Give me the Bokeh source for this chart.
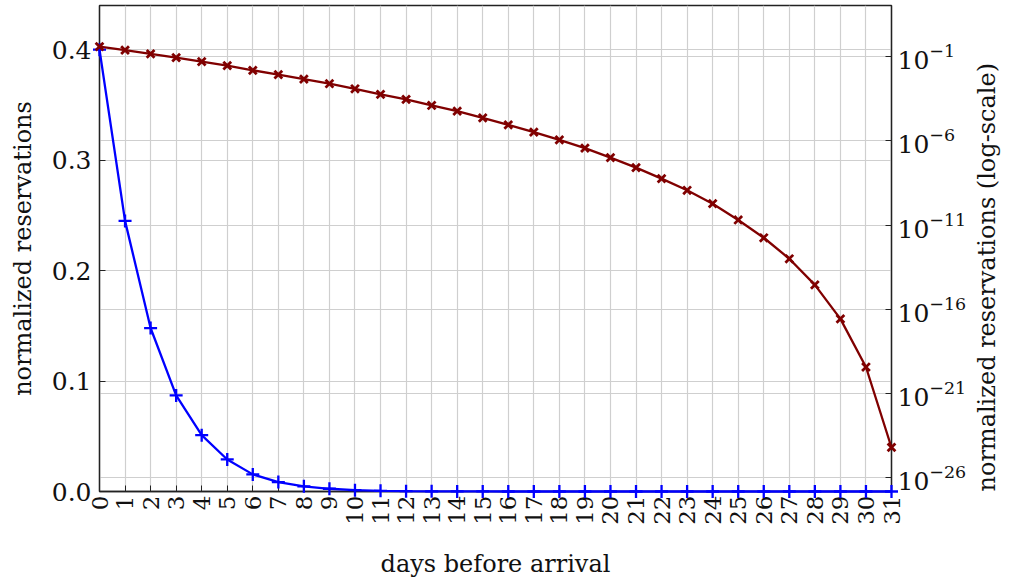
from bokeh.plotting import figure
from bokeh.models import (Range1d, LogScale, LogAxis, FixedTicker,
                          NumeralTickFormatter, Grid, ColumnDataSource)
from bokeh.embed import file_html
from bokeh.resources import INLINE
import math

# ---- data -------------------------------------------------------------
days = list(range(32))
reservations = [0.40, 0.245, 0.148, 0.087, 0.051, 0.029, 0.0155, 0.0085,
                0.0047, 0.00247, 0.00124, 5.7e-4, 2.9e-4, 1.26e-4, 5.9e-5,
                2.34e-5, 8.96e-6, 3.3e-6, 1.15e-6, 3.67e-7, 1.01e-7, 2.58e-8,
                5.7e-9, 1.16e-9, 1.85e-10, 1.99e-11, 1.75e-12, 9.9e-14,
                2.8e-15, 2.65e-17, 3.67e-20, 6.1e-25]
left_ticks = [0.0, 0.1, 0.2, 0.3, 0.4]
log_ticks = [1e-26, 1e-21, 1e-16, 1e-11, 1e-6, 1e-1]

x_label = "days before arrival"
y_label = "normalized reservations"
y2_label = "normalized reservations (log-scale)"

src = ColumnDataSource(dict(x=days, y=reservations))

FONT = "DejaVu Serif"
GRID = "#cfcfcf"
INK = "#222222"

p = figure(width=1019, height=581, output_backend="svg", toolbar_location=None,
           x_range=Range1d(0, 31), y_range=Range1d(0, 0.44),
           min_border_left=99, min_border_right=128, min_border_top=5,
           min_border_bottom=90)
p.outline_line_color = INK
p.outline_line_width = 1.3
p.background_fill_color = "white"
p.border_fill_color = "white"

p.extra_y_scales = {"log": LogScale()}
p.extra_y_ranges = {"log": Range1d(10 ** -26.83, 10 ** 2.04)}

# x axis
xa = p.xaxis[0]
xa.ticker = FixedTicker(ticks=days)
xa.major_label_orientation = 1.5707963
xa.axis_label = x_label

# left y axis
ya = p.yaxis[0]
ya.ticker = FixedTicker(ticks=left_ticks)
ya.formatter = NumeralTickFormatter(format="0.0")
ya.axis_label = y_label

# right log axis
ra = LogAxis(y_range_name="log", ticker=FixedTicker(ticks=log_ticks),
             axis_label=y2_label)
p.add_layout(ra, "right")

for ax in [xa, ya, ra]:
    ax.axis_line_color = INK
    ax.axis_line_width = 1.3
    ax.major_tick_line_color = INK
    ax.major_tick_in = 6
    ax.major_tick_out = 0
    ax.minor_tick_line_color = None
    ax.major_label_text_font = FONT
    ax.major_label_text_color = "#111111"
    ax.axis_label_text_font = FONT
    ax.axis_label_text_font_style = "normal"
    ax.axis_label_text_color = "#111111"
    ax.axis_label_text_font_size = "24px"
    ax.major_label_text_font_size = "25px"
xa.major_label_text_font_size = "23px"
xa.major_label_standoff = 4
ya.major_label_standoff = 8
ra.major_label_standoff = 6
xa.axis_label_standoff = 22
ya.axis_label_standoff = 12
ra.axis_label_standoff = 18
ra.axis_label_orientation = math.pi / 2
ra.axis_label_align = "start"

# grids
p.xgrid.grid_line_color = GRID
p.ygrid.grid_line_color = GRID
p.xgrid.grid_line_width = 1.2
p.ygrid.grid_line_width = 1.2
g2 = Grid(dimension=1, ticker=ra.ticker, y_range_name="log",
          grid_line_color=GRID, grid_line_width=1.2)
p.add_layout(g2)

# series
p.line("x", "y", source=src, line_color="#0000ff", line_width=2.3, level="overlay")
p.scatter("x", "y", source=src, marker="cross", size=13, line_color="#0000ff",
          line_width=2.3, level="overlay")
p.line("x", "y", source=src, line_color="#800000", line_width=2.3,
       y_range_name="log", level="overlay")
p.scatter("x", "y", source=src, marker="x", size=11, line_color="#800000",
          line_width=2.8, y_range_name="log", level="overlay")

open("out.html", "w").write(file_html(p, INLINE))
